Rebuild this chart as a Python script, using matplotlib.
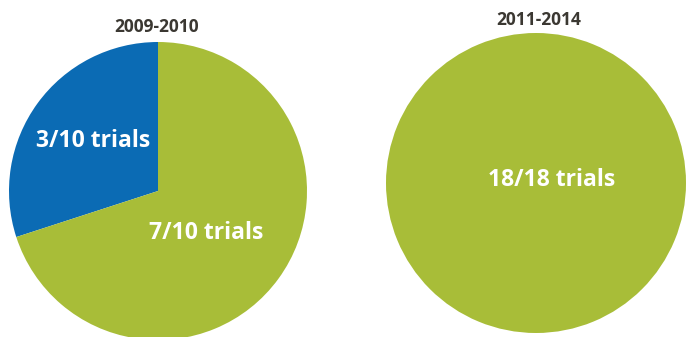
import matplotlib
matplotlib.use("Agg")
import matplotlib.pyplot as plt

# Trial outcomes per period
periods = ["2009-2010", "2011-2014"]
early_counts = [3, 7]          # blue, green
early_labels = ["3/10 trials", "7/10 trials"]
late_counts = [18]
late_labels = ["18/18 trials"]

BLUE = "#0b6bb4"
GREEN = "#a8bd38"
TITLE_COLOR = "#3b3832"

plt.rcParams["font.family"] = ["Open Sans", "DejaVu Sans"]

W, H = 690, 337
fig = plt.figure(figsize=(W / 100, H / 100), dpi=100)
fig.patch.set_facecolor("white")


def pie_axes(cx, cy, r):
    # square axes in pixel units, y measured from the top
    return fig.add_axes([(cx - r) / W, (H - cy - r) / H, 2 * r / W, 2 * r / H])


def px(cx, cy, r, x, y):
    # pixel position -> data coords of a unit pie
    return (x - cx) / r, (cy - y) / r


LABEL_KW = dict(ha="center", va="center", color="white",
                fontsize=16.5, fontweight="bold")

# ── 2009-2010 ──────────────────────────────────────────────────────────────
c1 = (158, 191, 149)
ax1 = pie_axes(*c1)
ax1.pie(early_counts, colors=[BLUE, GREEN], startangle=90, counterclock=True,
        radius=1, wedgeprops={"linewidth": 0})
ax1.set_xlim(-1, 1)
ax1.set_ylim(-1, 1)
ax1.axis("off")
ax1.text(*px(*c1, 93, 141), early_labels[0], **LABEL_KW)
ax1.text(*px(*c1, 206, 233), early_labels[1], **LABEL_KW)

# ── 2011-2014 ──────────────────────────────────────────────────────────────
c2 = (536, 183, 150)
ax2 = pie_axes(*c2)
ax2.pie(late_counts, colors=[GREEN], startangle=90, radius=1,
        wedgeprops={"linewidth": 0})
ax2.set_xlim(-1, 1)
ax2.set_ylim(-1, 1)
ax2.axis("off")
ax2.text(*px(*c2, 552, 180), late_labels[0], **LABEL_KW)

fig.text(157 / W, 1 - 27 / H, periods[0], ha="center", va="center",
         color=TITLE_COLOR, fontsize=12.5, fontweight="bold")
fig.text(539 / W, 1 - 20 / H, periods[1], ha="center", va="center",
         color=TITLE_COLOR, fontsize=12.5, fontweight="bold")

fig.savefig("out.png", dpi=100)
